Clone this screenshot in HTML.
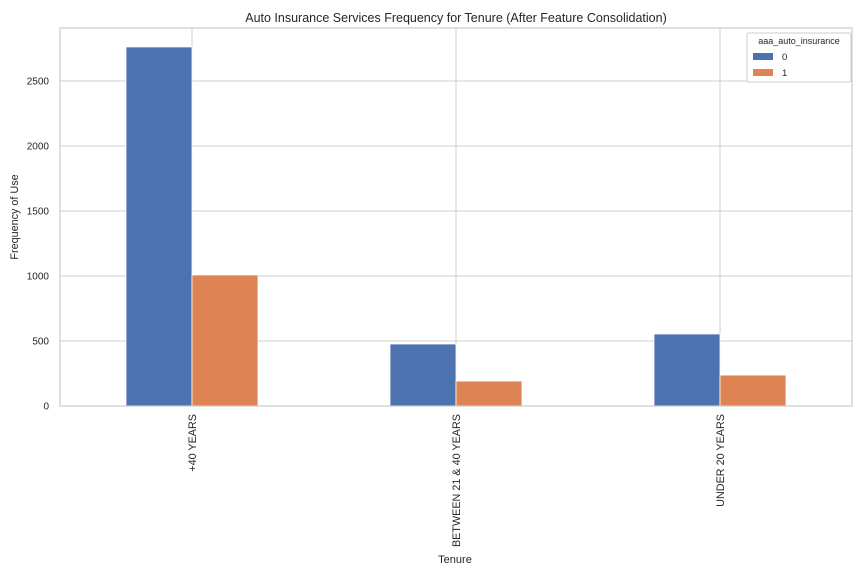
<!DOCTYPE html>
<html><head><meta charset="utf-8"><style>
body{margin:0;background:#fff;font-family:"Liberation Sans",Arial,sans-serif;}
svg text{font-family:"Liberation Sans",Arial,sans-serif;fill:#262626;}
</style></head><body>
<svg id="chart" width="864" height="576">
<rect width="864" height="576" fill="#fff"/>
<g id="grid"></g><g id="bars"></g><g id="axes"></g>
</svg>
<script>
const categories=["+40 YEARS","BETWEEN 21 & 40 YEARS","UNDER 20 YEARS"];
const series0=[2762,477,554];
const series1=[1008,192,238];
const yTicks=[0,500,1000,1500,2000,2500];
const seriesNames=["0","1"];
const colors=["#4c72b0","#dd8452"];
const L=60,R=852,T=28,B=406;
const ns="http://www.w3.org/2000/svg";
function y(v){return B-v*0.13;}
function x(i){return L+(R-L)*(i+0.5)/categories.length;}
function el(tag,attrs,parent,txt){const e=document.createElementNS(ns,tag);for(const k in attrs)e.setAttribute(k,attrs[k]);if(txt!==undefined)e.textContent=txt;parent.appendChild(e);return e;}
const svg=document.getElementById('chart'),grid=document.getElementById('grid'),bars=document.getElementById('bars'),axes=document.getElementById('axes');
yTicks.forEach(t=>{
  const g=el('line',{x1:L,x2:R,y1:y(t),y2:y(t),stroke:'#cccccc','stroke-width':1},grid);
  
  
  const l=el('text',{x:L-11,y:y(t)+3.5,'text-anchor':'end','font-size':10},axes,String(t));
  
  
});
categories.forEach((c,i)=>{
  const g=el('line',{x1:x(i),x2:x(i),y1:T,y2:B,stroke:'#cccccc','stroke-width':1},grid);
  
  
  const l=el('text',{x:0,y:0,'text-anchor':'end','font-size':10.8,transform:`translate(${x(i)+3.8},${B+8}) rotate(-90)`},axes,c);
  
  
});
const bw=(R-L)/categories.length/4;
[series0,series1].forEach((s,k)=>{
  s.forEach((v,i)=>{
    const r=el('rect',{x:x(i)-bw+k*bw,y:y(v),width:bw,height:B-y(v),fill:colors[k],stroke:'#fff','stroke-width':0.8},bars);
    
    
  });
});
const fr=el('rect',{x:L,y:T,width:R-L,height:B-T,fill:'none',stroke:'#cccccc','stroke-width':1.2},axes);


const ti=el('text',{x:(L+R)/2,y:22,'text-anchor':'middle','font-size':12.5},axes,'Auto Insurance Services Frequency for Tenure (After Feature Consolidation)');


const xt=el('text',{x:(L+R)/2-1,y:563,'text-anchor':'middle','font-size':11},axes,'Tenure');


const yt=el('text',{x:0,y:0,'text-anchor':'middle','font-size':10.8,transform:`translate(18,${(T+B)/2}) rotate(-90)`},axes,'Frequency of Use');


const lg=el('g',{},axes);


el('rect',{x:747,y:33,width:104,height:49,fill:'#fff',stroke:'#cccccc','stroke-width':1,rx:2},lg);
el('text',{x:799,y:44,'text-anchor':'middle','font-size':9},lg,'aaa_auto_insurance');
seriesNames.forEach((n,k)=>{
  const sw=el('rect',{x:753,y:53+k*16,width:20,height:7,fill:colors[k]},lg);
  
  
  const t=el('text',{x:782,y:60+k*16,'font-size':9.5},lg,n);
  
  
});
</script>
</body></html>
